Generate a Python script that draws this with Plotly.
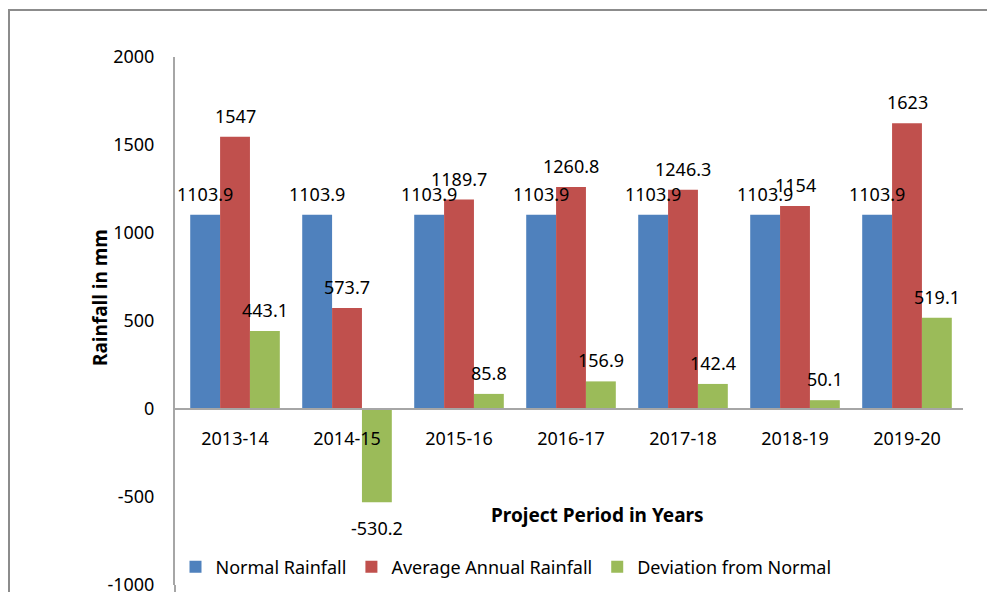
import plotly.graph_objects as go

categories = ["2013-14", "2014-15", "2015-16", "2016-17", "2017-18", "2018-19", "2019-20"]
normal_rainfall = [1103.9, 1103.9, 1103.9, 1103.9, 1103.9, 1103.9, 1103.9]
average_annual = [1547, 573.7, 1189.7, 1260.8, 1246.3, 1154, 1623]
deviation = [443.1, -530.2, 85.8, 156.9, 142.4, 50.1, 519.1]
y_ticks = [-1000, -500, 0, 500, 1000, 1500, 2000]
y_tick_labels = ["-1000", "-500", "0", "500", "1000", "1500", "2000"]

series_names = ["Normal Rainfall", "Average Annual Rainfall", "Deviation from Normal"]
series_values = [normal_rainfall, average_annual, deviation]
colors = ["#4F81BD", "#C0504D", "#9BBB59"]

# The page puts the figure 8px in from the top-left corner; compensate.
OFF = 8
W, H = 995, 592
PL, PR, PT, PB = 175, 963, 57, 585   # plot area in screen pixels
ML, MT = PL - OFF, PT - OFF
MR = W - (PR - OFF)
MB = H - (PB - OFF)
plot_w = PR - PL
plot_h = PB - PT
bargap = 0.2
cat_w = plot_w / len(categories)
bar_w = cat_w * (1 - bargap) / len(series_values)

FONT = "Noto Sans"


def px_x(x):
    return (x - PL) / plot_w


def px_y(y):
    return (PB - y) / plot_h


fig = go.Figure()
for name, vals, col in zip(series_names, series_values, colors):
    fig.add_trace(go.Bar(name=name, x=categories, y=vals, marker_color=col,
                         marker_line_width=0))

annotations = []
for i, vals in enumerate(series_values):
    xs = (i - 1) * bar_w
    for c, v in zip(categories, vals):
        annotations.append(dict(
            x=c, y=v, xref="x", yref="y", text=f"{v:g}", showarrow=False,
            xshift=xs, yshift=7 if v >= 0 else -12,
            yanchor="bottom" if v >= 0 else "top",
            font=dict(family=FONT, size=18, color="#000")))

annotations.append(dict(x=px_x(597), y=px_y(515), xref="paper", yref="paper",
                        xanchor="center", yanchor="middle",
                        text="<b>Project Period in Years</b>", showarrow=False,
                        font=dict(family=FONT, size=19, color="#000")))
annotations.append(dict(x=px_x(100), y=px_y(298), xref="paper", yref="paper",
                        xanchor="center", yanchor="middle",
                        text="<b>Rainfall in mm</b>", showarrow=False, textangle=-90,
                        font=dict(family=FONT, size=19, color="#000")))

fig.update_layout(
    width=W, height=H,
    margin=dict(l=ML, r=MR, t=MT, b=MB, autoexpand=False),
    barmode="group", bargap=bargap, bargroupgap=0,
    plot_bgcolor="white", paper_bgcolor="white",
    font=dict(family=FONT, size=18, color="#000"),
    showlegend=True,
    legend=dict(orientation="h", x=px_x(506), y=px_y(567),
                xanchor="center", yanchor="middle",
                font=dict(family=FONT, size=18), bgcolor="rgba(0,0,0,0)",
                itemwidth=30),
    annotations=annotations,
    xaxis=dict(anchor="free", position=1/3, showline=True, linecolor="#A6A6A6",
               linewidth=2, ticks="", showgrid=False, ticklabelstandoff=13,
               automargin=False, tickfont=dict(family=FONT, size=18)),
    yaxis=dict(range=[-1000, 2000], tickvals=y_ticks, ticktext=y_tick_labels,
               showgrid=False, zeroline=False, automargin=False,
               showline=True, linecolor="#A6A6A6", linewidth=2, ticks="",
               ticklabelstandoff=15, tickfont=dict(family=FONT, size=18)),
    shapes=[dict(type="rect", xref="paper", yref="paper",
                 x0=px_x(9), x1=px_x(1050), y0=px_y(650), y1=px_y(10),
                 line=dict(color="#8C8C8C", width=2), fillcolor="rgba(0,0,0,0)", layer="below"),
            dict(type="line", xref="paper", yref="paper",
                 x0=0, x1=0, y0=0, y1=px_y(600),
                 line=dict(color="#A6A6A6", width=2))],
)

fig.write_html("out.html")
